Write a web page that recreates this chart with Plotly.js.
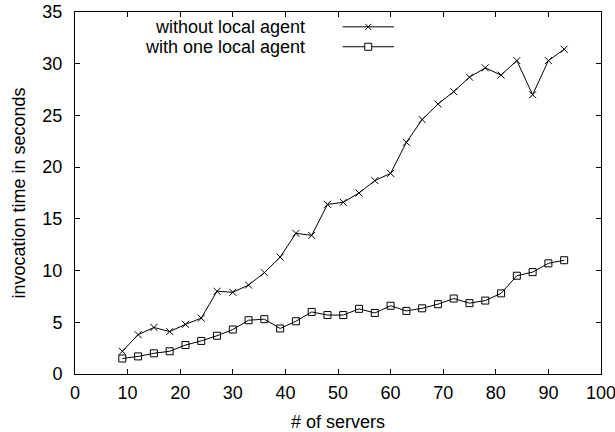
<!DOCTYPE html>
<html>
<head>
<meta charset="utf-8">
<script src="https://cdn.plot.ly/plotly-3.0.1.min.js"></script>
<style>html,body{margin:0;padding:0;background:#fff}#chart{width:615px;height:432px}</style>
</head>
<body>
<div id="chart"></div>
<script>
const servers = [9,12,15,18,21,24,27,30,33,36,39,42,45,48,51,54,57,60,63,66,69,72,75,78,81,84,87,90,93];
const withoutLocalAgent = [2.2,3.8,4.5,4.1,4.8,5.4,8.0,7.9,8.6,9.8,11.3,13.6,13.4,16.4,16.6,17.5,18.7,19.4,22.4,24.6,26.1,27.3,28.7,29.6,28.9,30.3,27.0,30.3,31.4];
const withOneLocalAgent = [1.5,1.7,2.0,2.2,2.8,3.2,3.7,4.3,5.2,5.3,4.4,5.1,6.0,5.7,5.7,6.3,5.9,6.6,6.1,6.35,6.75,7.3,6.85,7.1,7.8,9.5,9.85,10.7,11.0];
const seriesNames = ["without local agent","with one local agent"];
const xTickVals = [0,10,20,30,40,50,60,70,80,90,100];
const yTickVals = [0,5,10,15,20,25,30,35];

const font = {family: "Liberation Sans, Arial, sans-serif", size: 18, color: "#000"};

const traces = [
  {x: servers, y: withoutLocalAgent, name: seriesNames[0], mode: "lines+markers",
   line: {color: "#000", width: 1},
   marker: {symbol: "x-thin-open", size: 7, color: "#000", line: {color: "#000", width: 1}}},
  {x: servers, y: withOneLocalAgent, name: seriesNames[1], mode: "lines+markers",
   line: {color: "#000", width: 1},
   marker: {symbol: "square-open", size: 7, color: "#000", line: {color: "#000", width: 1}}}
];

const axisCommon = {showline: true, linecolor: "#000", linewidth: 1, mirror: "ticks",
  ticks: "inside", ticklen: 5, tickcolor: "#000", tickwidth: 1, showgrid: false, zeroline: false,
  tickfont: font, ticklabeloverflow: "allow"};

const ly1 = 0.959, ly2 = 0.904, lx0 = 0.509, lx1 = 0.6065, lxm = 0.5575;
const layout = {
  width: 615, height: 432,
  margin: {l: 75, r: 14, t: 12, b: 58},
  paper_bgcolor: "#fff", plot_bgcolor: "#fff",
  showlegend: false,
  font: font,
  xaxis: Object.assign({}, axisCommon, {range: [0, 100], tickvals: xTickVals, ticklabelstandoff: 2,
    title: {text: "# of servers", font: font, standoff: 14}}),
  yaxis: Object.assign({}, axisCommon, {range: [0, 35], tickvals: yTickVals, ticklabelstandoff: 8,
    title: {text: "invocation time in seconds", font: font, standoff: 12}}),
  annotations: [
    {xref: "paper", yref: "paper", x: 0.4405, y: ly1, xanchor: "right", yanchor: "middle",
     text: seriesNames[0], showarrow: false, font: font},
    {xref: "paper", yref: "paper", x: 0.4405, y: ly2, xanchor: "right", yanchor: "middle",
     text: seriesNames[1], showarrow: false, font: font}
  ],
  shapes: [
    {type: "line", xref: "paper", yref: "paper", x0: lx0, x1: lx1, y0: ly1, y1: ly1, line: {color: "#000", width: 1}},
    {type: "line", xref: "paper", yref: "paper", x0: lx0, x1: lx1, y0: ly2, y1: ly2, line: {color: "#000", width: 1}},
    {type: "line", xref: "paper", yref: "paper", xsizemode: "pixel", ysizemode: "pixel", xanchor: lxm, yanchor: ly1,
     x0: -3, x1: 3, y0: -3, y1: 3, line: {color: "#000", width: 1}},
    {type: "line", xref: "paper", yref: "paper", xsizemode: "pixel", ysizemode: "pixel", xanchor: lxm, yanchor: ly1,
     x0: -3, x1: 3, y0: 3, y1: -3, line: {color: "#000", width: 1}},
    {type: "rect", xref: "paper", yref: "paper", xsizemode: "pixel", ysizemode: "pixel", xanchor: lxm, yanchor: ly2,
     x0: -3.5, x1: 3.5, y0: -3.5, y1: 3.5, fillcolor: "#fff", line: {color: "#000", width: 1}}
  ]
};

Plotly.newPlot("chart", traces, layout, {displayModeBar: false, staticPlot: true});
</script>
</body>
</html>
